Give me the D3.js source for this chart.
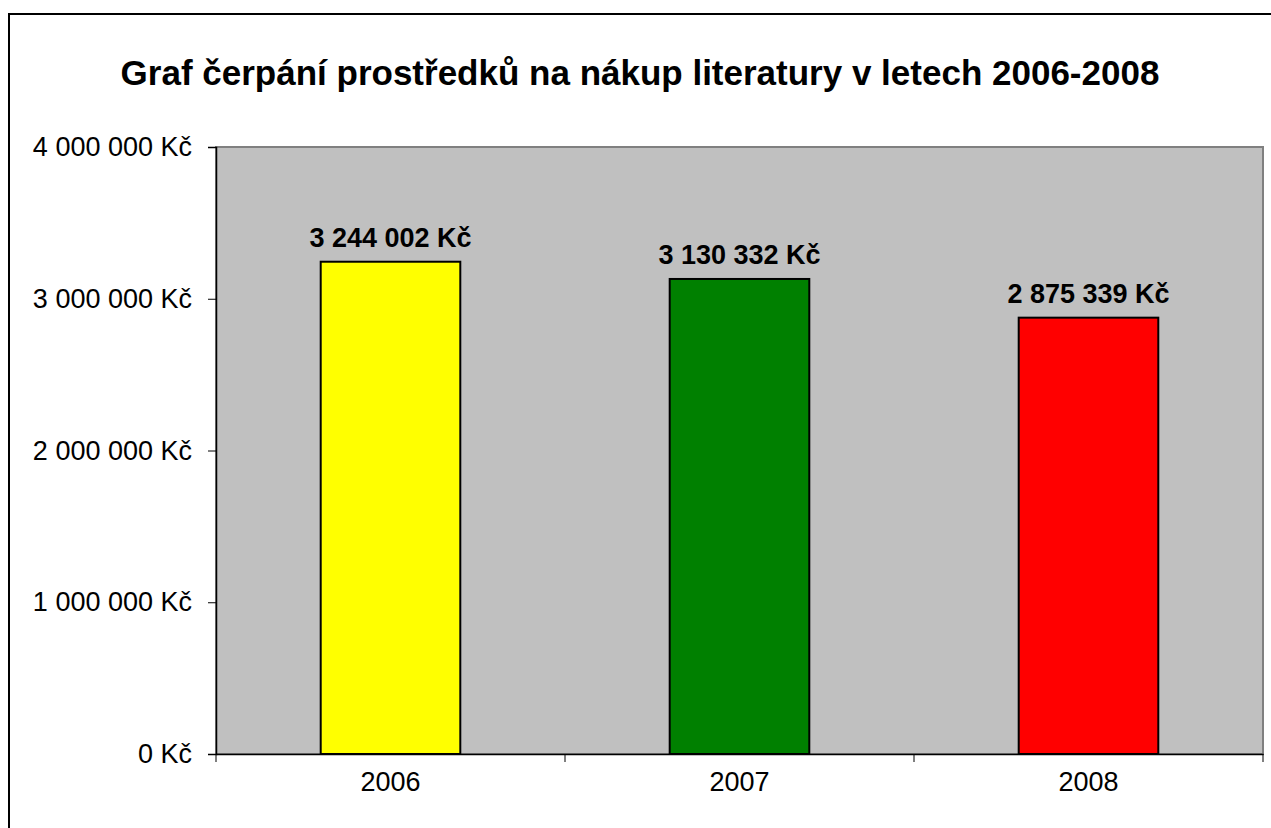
<!DOCTYPE html>
<html>
<head>
<meta charset="utf-8">
<script src="https://cdn.jsdelivr.net/npm/d3@7"></script>
<style>
  body { margin: 0; background: #fff; }
  svg { display: block; font-family: "Liberation Sans", Arial, sans-serif; }
</style>
</head>
<body>
<div id="chart"></div>
<script>
"use strict";

var years = ["2006", "2007", "2008"];
var amounts = [3244002, 3130332, 2875339];
var barColors = ["#ffff00", "#008000", "#ff0000"];
var yTicks = [0, 1000000, 2000000, 3000000, 4000000];
var title = "Graf čerpání prostředků na nákup literatury v letech 2006-2008";

var width = 1271, height = 828;
var plot = {left: 216, right: 1263, top: 147, bottom: 754};

var fmt = function(v) {
  return d3.format(",")(v).replace(/,/g, " ") + " Kč";
};

var svg = d3.select("#chart").append("svg")
  .attr("width", width)
  .attr("height", height);

// outer frame of the chart object
svg.append("rect")
  .attr("x", 9).attr("y", 14)
  .attr("width", 1300).attr("height", 900)
  .attr("fill", "#fff")
  .attr("stroke", "#000")
  .attr("stroke-width", 2);

svg.append("text")
  .attr("x", 640).attr("y", 85)
  .attr("text-anchor", "middle")
  .attr("font-size", 35)
  .attr("font-weight", "bold")
  .text(title);

var x = d3.scaleBand()
  .domain(years)
  .range([plot.left, plot.right])
  .paddingInner(0)
  .paddingOuter(0);

var y = d3.scaleLinear()
  .domain([0, 4000000])
  .range([plot.bottom, plot.top]);

// plot area
svg.append("rect")
  .attr("x", plot.left).attr("y", plot.top)
  .attr("width", plot.right - plot.left)
  .attr("height", plot.bottom - plot.top)
  .attr("fill", "#c0c0c0")
  .attr("stroke", "#808080")
  .attr("stroke-width", 2);

var barW = x.bandwidth() / 2.5;

svg.append("g").selectAll("rect")
  .data(amounts)
  .enter().append("rect")
  .attr("x", function(d, i) { return x(years[i]) + (x.bandwidth() - barW) / 2; })
  .attr("y", function(d) { return y(d); })
  .attr("width", barW)
  .attr("height", function(d) { return y(0) - y(d); })
  .attr("fill", function(d, i) { return barColors[i]; })
  .attr("stroke", "#000")
  .attr("stroke-width", 2);

svg.append("g").selectAll("text")
  .data(amounts)
  .enter().append("text")
  .attr("x", function(d, i) { return x(years[i]) + x.bandwidth() / 2; })
  .attr("y", function(d) { return y(d) - 15; })
  .attr("text-anchor", "middle")
  .attr("font-size", 27)
  .attr("font-weight", "bold")
  .text(function(d) { return fmt(d); });

// y axis
var yAxis = svg.append("g")
  .attr("transform", "translate(" + plot.left + ",0)")
  .call(d3.axisLeft(y).tickValues(yTicks).tickFormat(fmt).tickSize(8).tickPadding(16));
yAxis.select(".domain").attr("stroke", "#000").attr("stroke-width", 1.5);
yAxis.selectAll(".tick line").attr("stroke", "#000");
yAxis.selectAll(".tick text")
  .attr("font-size", 27)
  .attr("font-family", "Liberation Sans, Arial, sans-serif")
  .attr("fill", "#000");

// x axis with ticks at category boundaries
var xAxis = svg.append("g")
  .attr("transform", "translate(0," + plot.bottom + ")")
  .call(d3.axisBottom(x).tickSize(0).tickPadding(18));
xAxis.select(".domain").attr("stroke", "#000").attr("stroke-width", 1.5);
xAxis.selectAll(".tick text")
  .attr("font-size", 27)
  .attr("font-family", "Liberation Sans, Arial, sans-serif")
  .attr("fill", "#000");
xAxis.selectAll(".bound")
  .data(years.map(function(d) { return x(d); }).concat([plot.right]))
  .enter().append("line")
  .attr("class", "bound")
  .attr("x1", function(d) { return d; })
  .attr("x2", function(d) { return d; })
  .attr("y1", 0).attr("y2", 8)
  .attr("stroke", "#000");
</script>
</body>
</html>
